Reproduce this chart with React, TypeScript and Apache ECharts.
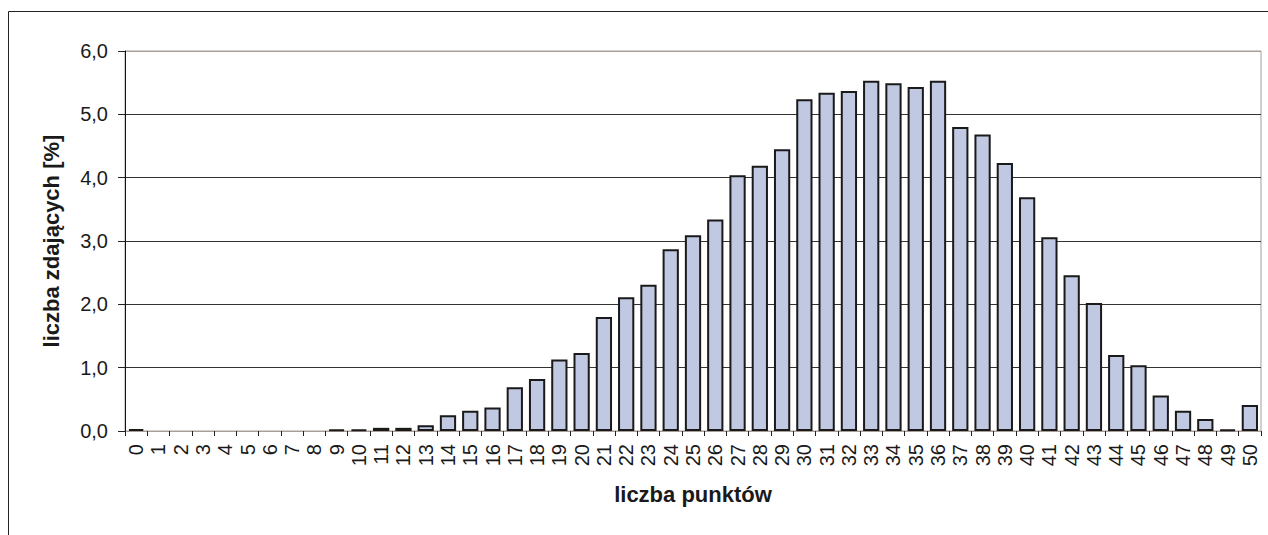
import React, { useEffect, useRef } from "react";
import * as echarts from "echarts";

const categories: string[] = Array.from({ length: 51 }, (_, i) => String(i));
const percentValues: number[] = [
  0.03, 0, 0, 0, 0, 0, 0, 0, 0, 0.02, 0.02, 0.05, 0.05, 0.09, 0.25, 0.32, 0.37,
  0.69, 0.82, 1.13, 1.23, 1.8, 2.11, 2.31, 2.87, 3.09, 3.34, 4.04, 4.19, 4.45,
  5.24, 5.34, 5.37, 5.53, 5.49, 5.43, 5.53, 4.8, 4.68, 4.23, 3.69, 3.06, 2.46,
  2.02, 1.2, 1.04, 0.56, 0.32, 0.19, 0.02, 0.41,
];
const xTitle = "liczba punktów";
const yTitle = "liczba zdających [%]";

const FONT = "'Liberation Sans', Arial, sans-serif";

export default function App() {
  const ref = useRef<HTMLDivElement>(null);
  useEffect(() => {
    if (!ref.current) return;
    const chart = echarts.init(ref.current, null, { renderer: "svg" });
    chart.setOption({
      animation: false,
      backgroundColor: "#ffffff",
      textStyle: { fontFamily: FONT },
      graphic: [
        {
          type: "rect",
          shape: { x: 8.5, y: 11.5, width: 1400, height: 700 },
          style: { fill: "none", stroke: "#222", lineWidth: 1 },
          silent: true,
        },
      ],
      grid: {
        left: 125,
        top: 51,
        right: 7,
        bottom: 104,
        show: true,
        borderColor: "#a89e9a",
        borderWidth: 1,
        containLabel: false,
      },
      xAxis: {
        type: "category",
        data: categories,
        boundaryGap: true,
        name: xTitle,
        nameLocation: "middle",
        nameGap: 52,
        nameTextStyle: { fontFamily: FONT, fontSize: 22, fontWeight: "bold", color: "#1a1a1a" },
        axisLine: { show: true, lineStyle: { color: "#a89e9a", width: 1 } },
        axisTick: { show: true, length: 5, alignWithLabel: false, lineStyle: { color: "#222" } },
        axisLabel: {
          interval: 0,
          rotate: 90,
          margin: 13,
          fontFamily: FONT,
          fontSize: 20,
          color: "#1a1a1a",
        },
      },
      yAxis: {
        type: "value",
        min: 0,
        max: 6,
        interval: 1,
        name: yTitle,
        nameLocation: "middle",
        nameGap: 63,
        nameRotate: 90,
        nameTextStyle: { fontFamily: FONT, fontSize: 22, fontWeight: "bold", color: "#1a1a1a" },
        axisLine: { show: true, lineStyle: { color: "#111", width: 1 } },
        axisTick: { show: true, length: 7, lineStyle: { color: "#222" } },
        axisLabel: {
          margin: 17,
          fontFamily: FONT,
          fontSize: 20,
          color: "#1a1a1a",
          formatter: (v: number) => v.toFixed(1).replace(".", ","),
        },
        splitLine: {
          show: true,
          lineStyle: {
            color: ["#a89e9a", "#333", "#333", "#333", "#333", "#333", "#a89e9a"],
            width: 1,
          },
        },
      },
      series: [
        {
          type: "bar",
          data: percentValues.map((v) => (v === 0 ? "-" : v)),
          barCategoryGap: "27%",
          itemStyle: { color: "#c0c8e2", borderColor: "#1a1a1a", borderWidth: 2 },
        },
      ],
    });
    return () => chart.dispose();
  }, []);
  return (
    <div
      ref={ref}
      style={{ position: "fixed", left: 0, top: 0, width: 1268, height: 535 }}
    />
  );
}
